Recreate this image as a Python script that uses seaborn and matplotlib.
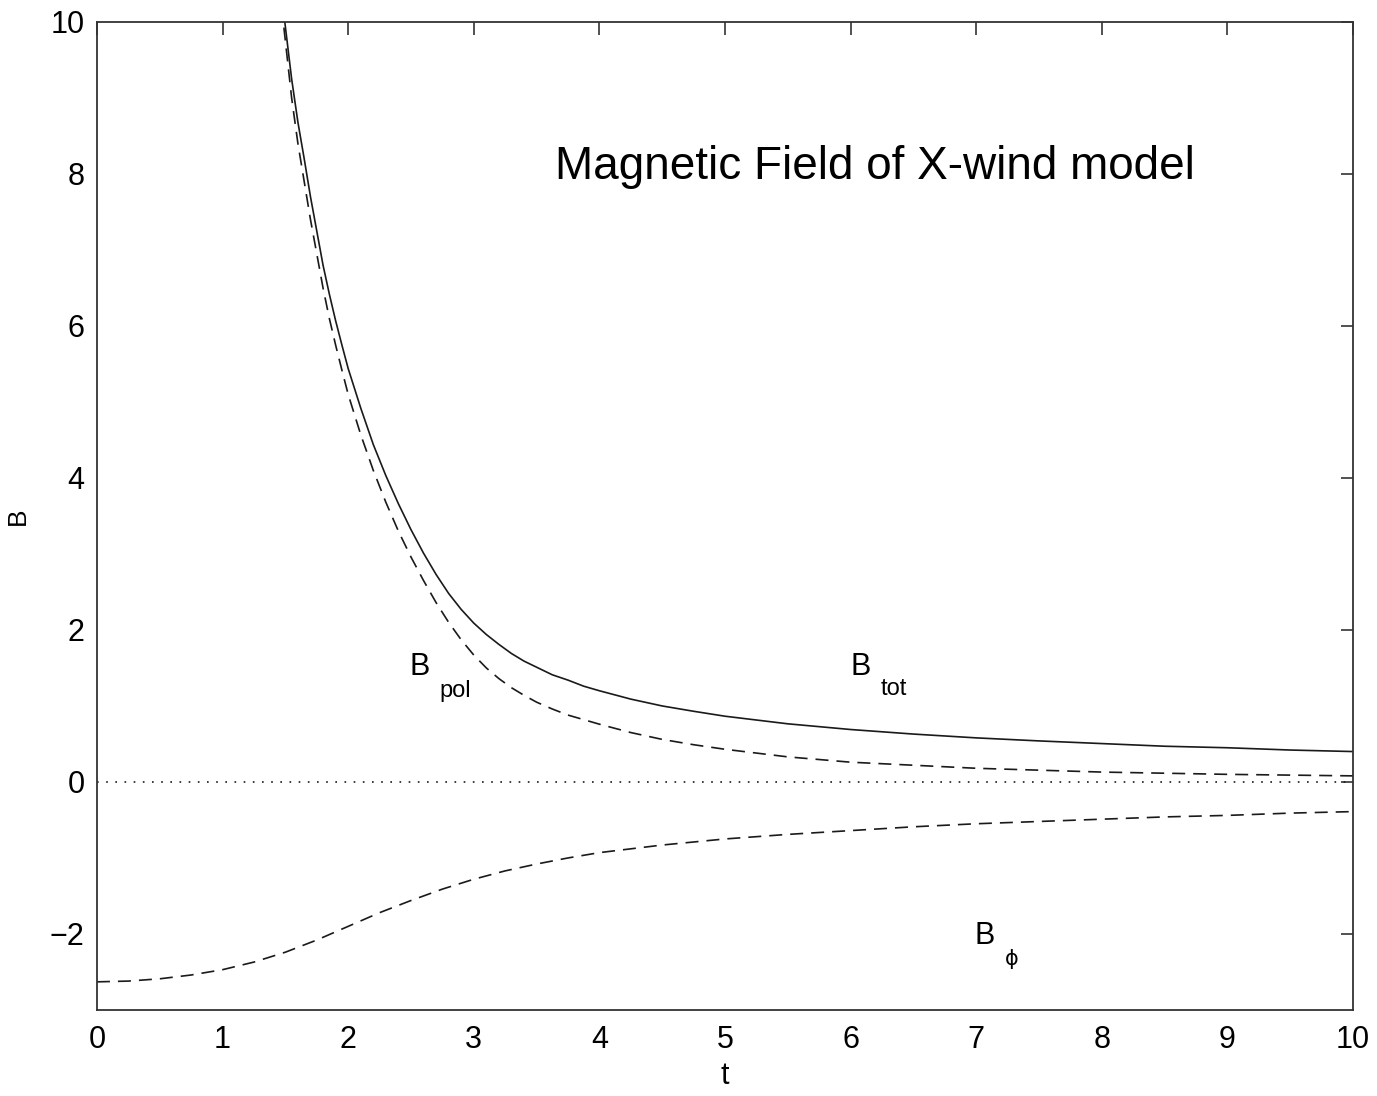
import pandas as pd
import matplotlib
matplotlib.use("Agg")
import matplotlib.pyplot as plt
import seaborn as sns

# values
t_pol = [1.47, 1.55, 1.6, 1.65, 1.7, 1.75, 1.8, 1.85, 1.9, 1.95, 2.0, 2.1, 2.2, 2.3,
         2.4, 2.5, 2.6, 2.7, 2.8, 2.9, 3.0, 3.1, 3.2, 3.3, 3.4, 3.5, 3.625, 3.75,
         3.875, 4.0, 4.25, 4.5, 4.75, 5.0, 5.5, 6.0, 6.5, 7.0, 7.5, 8.0, 8.5, 9.0,
         9.5, 10.0]
b_pol = [10.2, 9.0, 8.4, 7.9, 7.4, 6.95, 6.5, 6.1, 5.75, 5.42, 5.1, 4.57, 4.1, 3.68,
         3.3, 2.96, 2.65, 2.36, 2.1, 1.87, 1.67, 1.5, 1.36, 1.24, 1.14, 1.05, 0.96, 0.88,
         0.82, 0.76, 0.65, 0.56, 0.49, 0.43, 0.33, 0.26, 0.22, 0.18, 0.155, 0.13, 0.115,
         0.10, 0.09, 0.08]
b_tot = [10.35, 9.25, 8.68, 8.2, 7.7, 7.25, 6.8, 6.42, 6.07, 5.75, 5.44, 4.92, 4.44,
         4.03, 3.66, 3.32, 3.01, 2.73, 2.48, 2.27, 2.09, 1.94, 1.81, 1.69, 1.59, 1.51,
         1.41, 1.34, 1.26, 1.2, 1.09, 1.0, 0.93, 0.865, 0.765, 0.69, 0.63, 0.58, 0.54,
         0.505, 0.47, 0.45, 0.42, 0.40]

t_phi = [0.0, 0.25, 0.5, 0.75, 1.0, 1.25, 1.5, 1.75, 2.0, 2.25, 2.5, 2.75, 3.0, 3.25,
         3.5, 3.75, 4.0, 4.25, 4.5, 4.75, 5.0, 5.5, 6.0, 6.5, 7.0, 7.5, 8.0, 8.5, 9.0,
         9.5, 10.0]
b_phi = [-2.63, -2.62, -2.59, -2.54, -2.47, -2.37, -2.24, -2.08, -1.9, -1.72, -1.56,
         -1.41, -1.28, -1.17, -1.08, -1.0, -0.93, -0.88, -0.83, -0.79, -0.75, -0.69,
         -0.64, -0.59, -0.55, -0.52, -0.49, -0.46, -0.44, -0.41, -0.39]

zero_t = [0.0, 10.0]
zero_b = [0.0, 0.0]

x_ticks = list(range(0, 11))
y_ticks = [-2, 0, 2, 4, 6, 8, 10]

sns.set_style("white")
plt.rcParams["font.family"] = ["Liberation Sans", "DejaVu Sans"]
plt.rcParams["text.color"] = "black"
plt.rcParams["axes.labelcolor"] = "black"
plt.rcParams["xtick.color"] = "black"
plt.rcParams["ytick.color"] = "black"

fig = plt.figure(figsize=(13.77, 10.96), dpi=100)
ax = fig.add_axes([0.0704, 0.0785, 0.9122, 0.9015])

line_col = "#1a1a1a"
dash = (7.8, 4.8)

pol_df = pd.DataFrame({"t": t_pol, "B": b_pol})
tot_df = pd.DataFrame({"t": t_pol, "B": b_tot})
phi_df = pd.DataFrame({"t": t_phi, "B": b_phi})
zero_df = pd.DataFrame({"t": zero_t, "B": zero_b})

sns.lineplot(data=tot_df, x="t", y="B", ax=ax, color=line_col, lw=1.2,
             sort=False, estimator=None)
sns.lineplot(data=pol_df, x="t", y="B", ax=ax, color=line_col, lw=1.2,
             dashes=dash, sort=False, estimator=None)
sns.lineplot(data=phi_df, x="t", y="B", ax=ax, color=line_col, lw=1.2,
             dashes=dash, sort=False, estimator=None)
sns.lineplot(data=zero_df, x="t", y="B", ax=ax, color=line_col, lw=1.2,
             dashes=(1, 4.5), sort=False, estimator=None)

ax.set_xlim(0, 10)
ax.set_ylim(-3, 10)
ax.set_xticks(x_ticks)
ax.set_yticks(y_ticks)
ax.set_yticklabels(["\u22122" if v == -2 else str(v) for v in y_ticks])
ax.tick_params(direction="in", length=9, width=1.2, labelsize=22,
               top=True, right=True, color="#333333", labelcolor="black")
ax.tick_params(axis="x", pad=11)
ax.tick_params(axis="y", pad=9)
for sp in ax.spines.values():
    sp.set_linewidth(1.3)
    sp.set_color("#333333")

ax.set_xlabel("t", fontsize=22, labelpad=4)
ax.set_ylabel("B", fontsize=19, labelpad=14)

ax.text(3.65, 8.09, "Magnetic Field of X-wind model", fontsize=33,
        va="center", ha="left")

ax.text(2.49, 1.51, "B", fontsize=22, va="center", ha="left")
ax.text(2.73, 1.2, "pol", fontsize=17, va="center", ha="left")
ax.text(6.0, 1.51, "B", fontsize=22, va="center", ha="left")
ax.text(6.24, 1.22, "tot", fontsize=17, va="center", ha="left")
ax.text(6.99, -2.03, "B", fontsize=22, va="center", ha="left")
ax.text(7.23, -2.33, "\u03d5", fontsize=15, va="center", ha="left",
        family=["DejaVu Sans"])

fig.savefig("out.png", dpi=100)
